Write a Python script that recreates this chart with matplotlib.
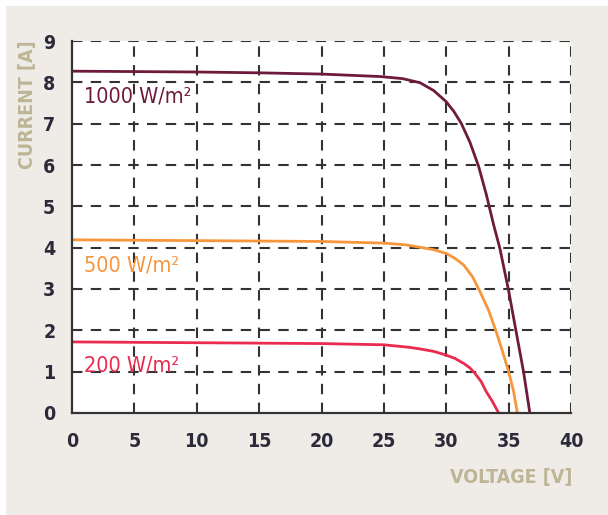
import matplotlib
matplotlib.use("Agg")
import matplotlib.pyplot as plt
from matplotlib.patches import Rectangle

# Data (voltage V, current A)
v_1000 = [0, 5, 10, 15, 20, 24.7, 26.5, 27.9, 29.0, 30.0, 30.6, 31.2, 31.9, 32.6, 33.2, 33.8, 34.3, 35.0, 35.6, 36.2, 36.7]
i_1000 = [8.27, 8.26, 8.25, 8.23, 8.20, 8.14, 8.09, 7.99, 7.80, 7.53, 7.30, 7.01, 6.55, 5.96, 5.30, 4.55, 3.98, 2.96, 1.97, 0.99, 0.0]

v_500 = [0, 5, 10, 15, 20, 25, 26.7, 27.9, 29.0, 30.0, 30.7, 31.4, 32.1, 32.7, 33.4, 34.0, 34.5, 35.0, 35.4, 35.7]
i_500 = [4.19, 4.18, 4.17, 4.16, 4.15, 4.11, 4.07, 4.01, 3.95, 3.86, 3.74, 3.58, 3.30, 2.94, 2.48, 1.97, 1.50, 1.00, 0.52, 0.0]

v_200 = [0, 5, 10, 15, 20, 25, 27.0, 27.9, 29.0, 30.0, 30.7, 31.4, 31.9, 32.3, 32.8, 33.2, 33.7, 34.2]
i_200 = [1.72, 1.71, 1.70, 1.69, 1.68, 1.65, 1.59, 1.55, 1.49, 1.40, 1.32, 1.20, 1.09, 0.96, 0.76, 0.52, 0.28, 0.0]

labels = ["1000 W/m\u00b2", "500 W/m\u00b2", "200 W/m\u00b2"]
colors = ["#6e1a3c", "#f7963c", "#ea2a4e"]
label_pos = [(1.0, 7.65), (1.0, 3.56), (1.0, 1.14)]

xticks = [0, 5, 10, 15, 20, 25, 30, 35, 40]
yticks = [0, 1, 2, 3, 4, 5, 6, 7, 8, 9]

FAM = "DejaVu Sans"
ST = "condensed"

W, H = 608, 515
fig = plt.figure(figsize=(W / 100, H / 100), dpi=100)
fig.patch.set_facecolor("white")
fig.patches.append(Rectangle((6 / W, 0.0), 1 - 6 / W, 1 - 6 / H, transform=fig.transFigure,
                             facecolor="#efece8", edgecolor="none", zorder=-10))

ax = fig.add_axes([72 / W, 1 - 413 / H, (571 - 72) / W, (413 - 41) / H])
ax.set_facecolor("white")
ax.set_xlim(0, 40)
ax.set_ylim(0, 9)

grid_kw = dict(color="#333333", lw=1.5, dashes=(5, 4), zorder=1)
for x in xticks[1:]:
    ax.axvline(x, **grid_kw)
for y in yticks[1:]:
    ax.axhline(y, **grid_kw)

for s in ["top", "right"]:
    ax.spines[s].set_visible(False)
for s in ["left", "bottom"]:
    ax.spines[s].set_color("#333333")
    ax.spines[s].set_linewidth(1.6)
    ax.spines[s].set_zorder(3)

series = [(v_1000, i_1000), (v_500, i_500), (v_200, i_200)]
for (v, i), c, lab, (lx, ly) in zip(series, colors, labels, label_pos):
    ax.plot(v, i, color=c, lw=2.0, zorder=2, solid_joinstyle="round")
    ax.text(lx, ly, lab, color=c, fontsize=15.5, family=FAM, stretch=ST,
            ha="left", va="center", zorder=4)

ax.set_xticks(xticks)
ax.set_yticks(yticks)
ax.set_xticklabels([str(t) for t in xticks], family=FAM, stretch=ST, fontsize=14,
                   fontweight="bold", color="#2a2a3a")
ax.set_yticklabels([str(t) for t in yticks], family=FAM, stretch=ST, fontsize=14,
                   fontweight="bold", color="#2a2a3a")
ax.tick_params(axis="x", length=0, pad=14)
ax.tick_params(axis="y", length=0, pad=12)

fig.text(28 / W, 1 - 105 / H, "CURRENT [A]", rotation=90, ha="center", va="center",
         family=FAM, stretch=ST, fontsize=14, fontweight="bold", color="#bdb596")
fig.text(572 / W, 1 - 477 / H, "VOLTAGE [V]", ha="right", va="center",
         family=FAM, stretch=ST, fontsize=14, fontweight="bold", color="#bdb596")

fig.savefig("out.png", dpi=100)
